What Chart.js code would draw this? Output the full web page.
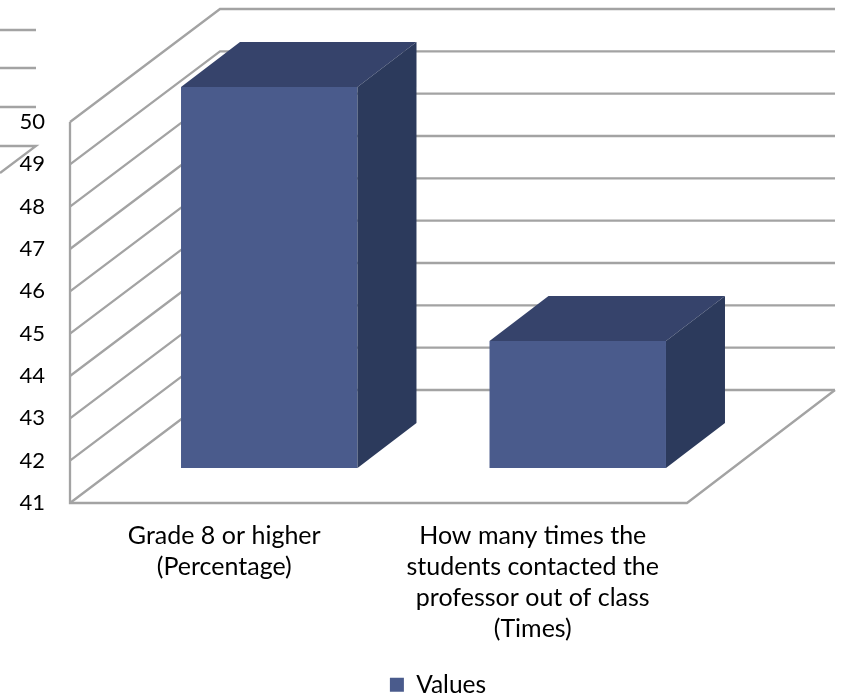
<!DOCTYPE html>
<html>
<head>
<meta charset="utf-8">
<title>Values</title>
<script src="https://cdn.jsdelivr.net/npm/chart.js@4/dist/chart.umd.min.js"></script>
<style>
  html, body { margin: 0; padding: 0; background: #fff; }
  canvas { display: block; }
</style>
</head>
<body>
<canvas id="chart" width="842" height="699"></canvas>
<script>
const categories = [
  ['Grade 8 or higher', '(Percentage)'],
  ['How many times the', 'students contacted the', 'professor out of class', '(Times)']
];
const seriesName = 'Values';
const seriesValues = [50, 44];
const axisMin = 41;
const axisMax = 50;

const FONT = 'Lato';
const GRID = '#a3a3a3';
const FRONT = '#4a5b8c';
const TOP = '#36436b';
const SIDE = '#2c3a5c';

/* Box depth of the walls and of the bars */
const wallDepth = { x: 150, y: -113 };
const barShift = { x: 45, y: -35 };
const barDepth = { x: 59, y: -45 };

function poly(ctx, pts, fill) {
  ctx.beginPath();
  pts.forEach((p, i) => i ? ctx.lineTo(p[0], p[1]) : ctx.moveTo(p[0], p[1]));
  if (fill) {
    ctx.closePath();
    ctx.fillStyle = fill;
    ctx.fill();
  } else {
    ctx.stroke();
  }
}

const walls3d = {
  id: 'walls3d',
  afterLayout(chart) {
    /* legend sits right of centre, close to the bottom edge */
    chart.legend.left = 34;
    chart.legend.top += 8;
  },
  beforeDatasetsDraw(chart) {
    const { ctx, chartArea: a, scales: { y } } = chart;
    ctx.save();
    ctx.strokeStyle = GRID;
    ctx.lineWidth = 2.3;
    ctx.lineJoin = 'miter';

    /* gridlines run along the left wall and then across the back wall */
    y.ticks.forEach(t => {
      const py = y.getPixelForValue(t.value);
      poly(ctx, [
        [a.left, py],
        [a.left + wallDepth.x, py + wallDepth.y],
        [a.right + wallDepth.x - 2, py + wallDepth.y]
      ]);
    });

    /* left edge and floor */
    poly(ctx, [[a.left, a.top], [a.left, a.bottom], [a.right, a.bottom],
      [a.right + wallDepth.x - 2, a.bottom + wallDepth.y]]);

    /* stray wall fragment at the top left */
    [30, 68, 107].forEach(py => poly(ctx, [[0, py], [36, py]]));
    poly(ctx, [[0, 146], [36, 146], [0, 173]]);
    ctx.restore();
  },
  beforeDatasetDraw(chart) {
    chart.ctx.save();
    chart.ctx.translate(barShift.x, barShift.y);
  },
  afterDatasetDraw(chart, args) {
    const ctx = chart.ctx;
    args.meta.data.forEach(bar => {
      const l = bar.x - bar.width / 2;
      const r = bar.x + bar.width / 2;
      const dx = barDepth.x;
      const dy = barDepth.y;
      poly(ctx, [[l, bar.y], [l + dx, bar.y + dy], [r + dx, bar.y + dy], [r, bar.y]], TOP);
      poly(ctx, [[r, bar.y], [r + dx, bar.y + dy], [r + dx, bar.base + dy], [r, bar.base]], SIDE);
    });
    ctx.restore();
  }
};

new Chart(document.getElementById('chart'), {
  type: 'bar',
  data: {
    labels: categories,
    datasets: [{
      label: seriesName,
      data: seriesValues,
      base: axisMin,
      backgroundColor: FRONT,
      borderWidth: 0,
      barPercentage: 0.572,
      categoryPercentage: 1,
      clip: false
    }]
  },
  options: {
    responsive: false,
    animation: false,
    layout: { padding: { left: 0, top: 122, right: 0, bottom: 0 } },
    plugins: {
      tooltip: { enabled: false },
      legend: {
        position: 'bottom',
        labels: {
          color: '#000',
          boxWidth: 14,
          boxHeight: 14,
          padding: 2,
          font: { family: FONT, size: 24.5 }
        }
      }
    },
    scales: {
      x: {
        grid: { display: false },
        border: { display: false },
        ticks: {
          color: '#000',
          maxRotation: 0,
          autoSkip: false,
          padding: 9,
          font: { family: FONT, size: 25, lineHeight: 1.24 }
        },
        afterFit: s => { s.height = 699 - 503 - s.chart.legend.height; }
      },
      y: {
        min: axisMin,
        max: axisMax,
        grid: { display: false, drawTicks: false },
        border: { display: false },
        ticks: {
          color: '#000',
          stepSize: 1,
          padding: 25,
          font: { family: FONT, size: 22 }
        },
        afterFit: s => { s.width = 70; }
      },
      /* empty axis that reserves room for the back wall on the right */
      side: {
        position: 'right',
        display: true,
        grid: { display: false },
        border: { display: false },
        ticks: { display: false },
        afterFit: s => { s.width = 155; }
      }
    }
  },
  plugins: [walls3d]
});
</script>
</body>
</html>
